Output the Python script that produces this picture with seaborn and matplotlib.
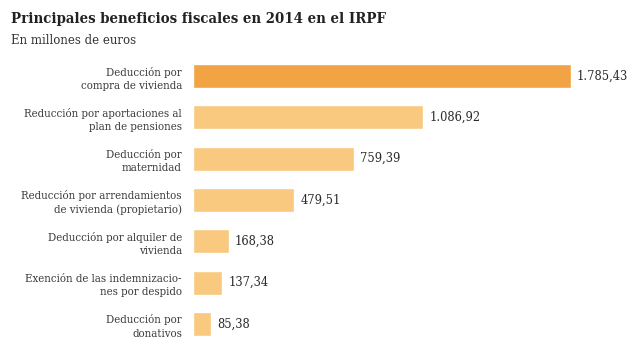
import matplotlib
matplotlib.use("Agg")
import matplotlib.pyplot as plt
import seaborn as sns
import pandas as pd

# Datos
categorias = [
    "Deducción por\ncompra de vivienda",
    "Reducción por aportaciones al\nplan de pensiones",
    "Deducción por\nmaternidad",
    "Reducción por arrendamientos\nde vivienda (propietario)",
    "Deducción por alquiler de\nvivienda",
    "Exención de las indemnizacio-\nnes por despido",
    "Deducción por\ndonativos",
]
valores = [1785.43, 1086.92, 759.39, 479.51, 168.38, 137.34, 85.38]
colores = ["#F2A444"] + ["#F9C97F"] * 6

df = pd.DataFrame({"categoria": categorias, "valor": valores})

sns.set_style("white")
plt.rcParams["font.family"] = ["DejaVu Serif"]
texto = "#2b2b2b"

fig = plt.figure(figsize=(6.44, 3.62), dpi=100)
ax = fig.add_axes([193 / 644, 0.048, 423 / 644, 0.799])

sns.barplot(data=df, x="valor", y="categoria", hue="categoria",
            palette=colores, legend=False, width=0.58, saturation=1, ax=ax)

ax.set_xlim(0, 2000)
ax.set_ylim(6.5, -0.5)
ax.set_xlabel("")
ax.set_ylabel("")
ax.set_xticks([])
sns.despine(ax=ax, left=True, bottom=True)
ax.tick_params(axis="y", length=0, pad=8)
for lbl in ax.get_yticklabels():
    lbl.set_fontsize(8.2)
    lbl.set_fontstretch("condensed")
    lbl.set_color("#3a3a3a")
    lbl.set_linespacing(1.38)
    lbl.set_horizontalalignment("right")

# Etiquetas de valor con formato español
for i, v in enumerate(valores):
    etiqueta = f"{v:,.2f}".replace(",", "X").replace(".", ",").replace("X", ".")
    ax.annotate(etiqueta, xy=(v, i), xytext=(4.5, 0), textcoords="offset points",
                va="center", ha="left", fontsize=9.2, color=texto,
                fontstretch="condensed")

fig.text(11 / 644, 1 - 22.5 / 362, "Principales beneficios fiscales en 2014 en el IRPF",
         fontsize=10.7, fontweight="bold", color="#222222", va="baseline",
         fontstretch="condensed")
fig.text(11 / 644, 1 - 44 / 362, "En millones de euros",
         fontsize=8.5, color="#333333", va="baseline")

fig.savefig("out.png", dpi=100)
